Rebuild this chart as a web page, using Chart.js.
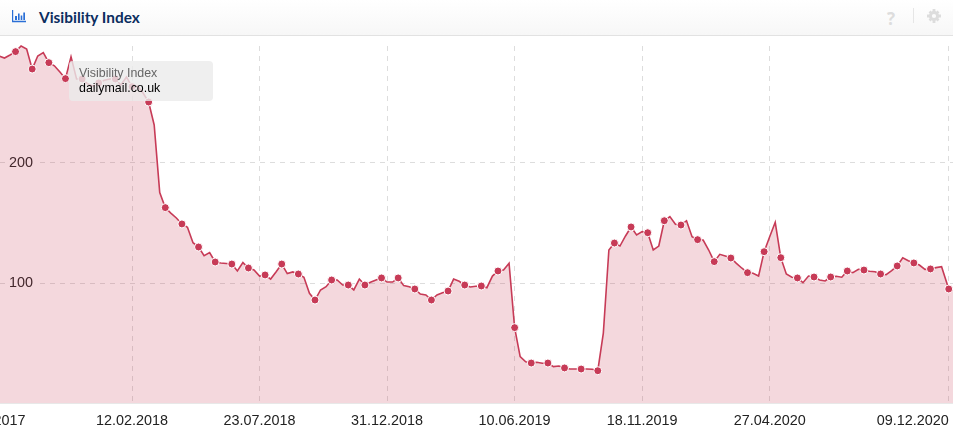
<!DOCTYPE html>
<html lang="en">

<head>
  <meta charset="UTF-8">
  <title>Visibility Index</title>
  <script src="https://cdn.jsdelivr.net/npm/chart.js"></script>
  <style>
    html, body { margin: 0; padding: 0; background: #fff; overflow: hidden; }
    #box { position: relative; width: 953px; height: 433px; overflow: hidden; }
    #head { position: absolute; left: 0; top: 0; width: 953px; height: 36px; box-sizing: border-box; background: linear-gradient(#fff, #f7f7f7); border-bottom: 1px solid #e2e2e2; }
    #title { position: absolute; left: 39px; top: 8px; font: 700 15.4px Lato, sans-serif; color: #0b2d5f; }
    #icon { position: absolute; left: 12px; top: 10px; }
    #help { position: absolute; left: 887px; top: 7px; font: 700 17px "Open Sans", sans-serif; color: #ddd; }
    #sep { position: absolute; left: 913px; top: 8px; width: 1px; height: 15px; background: #e6e6e6; }
    #gear { position: absolute; left: 927px; top: 9px; }
    #chart { position: absolute; left: 0; top: 36px; }
    #tip { position: absolute; left: 69px; top: 61px; width: 144px; height: 40px; border-radius: 4px; background: rgba(235, 235, 235, 0.8); font: 12.4px "Liberation Sans", sans-serif; }
    #tip div { position: absolute; left: 10px; white-space: nowrap; }
  </style>
</head>

<body>
  <div id="box">
    <div id="head">
      <svg id="icon" width="14" height="13" viewBox="0 0 14 13">
        <path d="M0.5 0v11.5H14" fill="none" stroke="#2a6fd6" stroke-width="1.4" />
        <path d="M3 6h2v4H3zM6 3.5h1.6V10H6zM8.7 5.5h1.6V10H8.7zM11.3 2.5H13V10h-1.7z" fill="#2a6fd6" />
      </svg>
      <div id="title">Visibility Index</div>
      <div id="help">?</div>
      <div id="sep"></div>
      <svg id="gear" width="14" height="14" viewBox="0 0 14 14">
        <circle cx="7" cy="7" r="3.6" fill="none" stroke="#ddd" stroke-width="3" />
        <path d="M5.6 0h2.8v3H5.6zM5.6 11h2.8v3H5.6zM0 5.6h3v2.8H0zM11 5.6h3v2.8h-3z" fill="#ddd" />
        <path d="M1.6 3.4l1.8-1.8 2 2-1.8 1.8zM8.6 10.4l1.8-1.8 2 2-1.8 1.8zM10.6 1.6l1.8 1.8-2 2-1.8-1.8zM3.6 8.6l1.8 1.8-2 2-1.8-1.8z" fill="#ddd" />
      </svg>
    </div>
    <canvas id="chart" width="953" height="397"></canvas>
    <div id="tip">
      <div style="top: 5px; color: #666;">Visibility Index</div>
      <div style="top: 20px; color: #000;">dailymail.co.uk</div>
    </div>
  </div>

  <script>
    const values = [
      289.2, 287.5, 290, 292.8, 297.5, 295, 278.3, 289.2, 292, 283.6, 281, 275.8, 270.3, 288.6, 270, 270,
      266, 264, 266.7, 269, 270, 270, 265, 271.7, 263.6, 264, 258.3, 250.8, 231.7, 175.4, 162.8, 158.3,
      154.2, 149.2, 146.4, 133.6, 130, 122.8, 125.3, 117.5, 116.7, 116.3, 115.8, 110, 117, 112.5, 110.8, 105.8,
      106.7, 103.3, 109.4, 115.8, 107.8, 109.2, 107.5, 104.8, 91.4, 85.8, 94.2, 96.9, 102.5, 102.5, 98.3, 98.3,
      94.2, 103.3, 98.3, 100.6, 102.5, 104.2, 100.8, 100.8, 104.2, 97.8, 96.9, 95, 90.8, 90, 85.8, 90,
      91.9, 93.3, 103.3, 101.4, 98.3, 96.7, 97.3, 97.5, 96.1, 105.8, 110, 110.8, 116.4, 62.8, 38.6, 34.4,
      33.3, 33.9, 33.1, 33.3, 30.3, 30.8, 29.2, 28.3, 28.3, 28.3, 28.3, 28.1, 26.9, 58.3, 127.5, 133.3,
      130.8, 139.2, 146.7, 140, 142.8, 141.9, 127.5, 130.8, 151.9, 155.3, 148.9, 148.3, 151.9, 138.6, 136.1, 135.8,
      127.5, 117.8, 123.9, 122.5, 120.8, 116.4, 112.3, 108.6, 108.1, 105.8, 126.1, 138.6, 150.6, 121.1, 107.5, 104.8,
      104.2, 100.3, 105.8, 105, 102.5, 101.7, 105, 105.6, 104.8, 110, 108.6, 111.4, 110.8, 109.8, 109.4, 107.5,
      106.9, 110.3, 114.2, 121.1, 118.6, 116.7, 115, 111.4, 111.7, 112.8, 113.6, 95, 94
    ]
    // the first tick lies left of the visible area, only its "2017" shows
    // 09.12.2020 is two days after the last weekly step, hence 171.29
    const tickIndexes = [-1.7, 24, 47, 70, 93, 116, 139, 171.29]
    const tickLabels = ['14.08.2017', '12.02.2018', '23.07.2018', '31.12.2018', '10.06.2019', '18.11.2019', '27.04.2020', '09.12.2020']
    const yTicks = [100, 200]

    const lineColor = '#c73b57'
    const gridColor = '#dddddd'
    const textFont = { family: '"Liberation Sans", sans-serif', size: 14.4 }
    const lastWeek = 171
    const lastIndex = values.length - 1

    new Chart(document.getElementById('chart'), {
      type: 'line',
      data: {
        datasets: [{
          data: values.map((v, i) => ({ x: i >= lastWeek ? i + 0.29 : i, y: v })),
          borderColor: lineColor,
          borderWidth: 1.6,
          backgroundColor: 'rgba(199, 59, 87, 0.2)',
          fill: 'origin',
          tension: 0,
          clip: false,
          // a marker every third week, the two off-screen ends have none
          pointRadius: ctx => ctx.dataIndex % 3 === 0 && ctx.dataIndex > 0 && ctx.dataIndex < lastIndex ? 4 : 0,
          pointBackgroundColor: lineColor,
          pointBorderColor: '#fff',
          pointBorderWidth: 1
        }]
      },
      options: {
        responsive: false,
        animation: false,
        layout: { autoPadding: false, padding: { top: 10 } },
        plugins: { legend: { display: false }, tooltip: { enabled: false } },
        scales: {
          x: {
            type: 'linear',
            min: 0.194,
            max: 172.06,
            afterBuildTicks: s => { s.ticks = tickIndexes.map(v => ({ value: v })) },
            afterFit: s => { s.paddingLeft = 0; s.paddingRight = 0; s.height = 30 },
            grid: { color: gridColor, drawTicks: false },
            border: { color: '#e8e8e8', dash: [5, 5] },
            ticks: {
              autoSkip: false,
              maxRotation: 0,
              padding: 9,
              color: '#222',
              font: textFont,
              // last label sits left of its line, as in the original
              callback: (v, i) => i === tickLabels.length - 1 ? tickLabels[i] + '\u00a0'.repeat(18) : tickLabels[i]
            }
          },
          y: {
            min: 0,
            max: 297.5,
            afterBuildTicks: s => { s.ticks = yTicks.map(v => ({ value: v })) },
            afterFit: s => { s.width = 0; s.paddingTop = 0; s.paddingBottom = 0 },
            grid: { color: gridColor, drawTicks: false },
            border: { display: false, dash: [5, 5] },
            ticks: {
              mirror: true,
              padding: 9,
              color: '#222',
              font: textFont,
              showLabelBackdrop: true,
              backdropColor: '#fff',
              backdropPadding: { x: 2, y: 1 }
            }
          }
        }
      }
    })
  </script>
</body>

</html>
